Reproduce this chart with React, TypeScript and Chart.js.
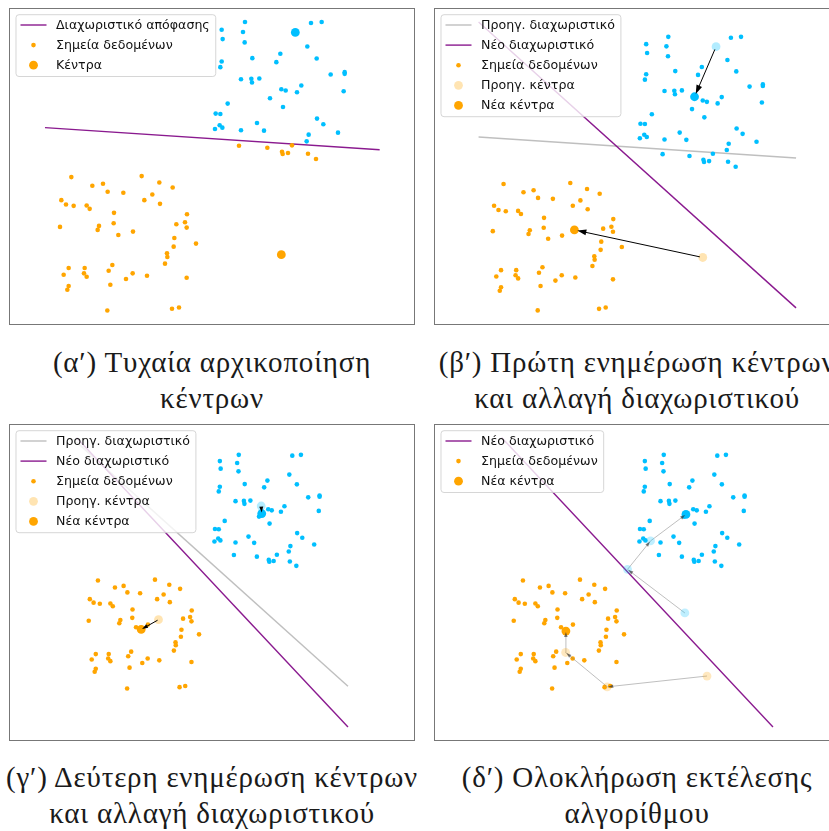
import React, { useEffect, useRef } from "react";
import { Chart, registerables } from "chart.js";

Chart.register(...registerables);

type P = [number, number];

// ---------------- data ----------------
const blueCore: P[] = [
  [1.35, 4.33], [3.65, 4.33], [3.33, 4.3], [0.65, 4.1], [1.29, 4.03], [0.68, 3.82], [1.34, 3.72],
  [3.22, 3.6], [1.57, 3.25], [3.5, 3.24], [2.29, 3.13], [2.41, 3.38], [0.65, 3.15], [0.61, 2.98],
  [3.92, 2.76], [4.34, 2.83], [4.34, 2.78], [1.23, 2.62], [1.54, 2.63], [1.56, 2.52], [1.78, 2.64],
  [3.04, 2.43], [2.44, 2.32], [2.57, 2.28], [2.91, 2.23], [4.31, 2.26], [2.1, 2.05], [2.49, 1.79],
  [0.83, 1.89], [0.47, 1.59], [0.61, 1.58], [3.51, 1.44], [3.7, 1.27], [0.59, 1.24], [0.67, 1.17],
  [0.45, 1.13], [1.71, 1.31], [1.23, 1.09], [1.92, 1.08], [4.14, 1.02], [3.26, 0.96], [3.2, 0.76],
];
// points of the upper cluster that the first (random) boundary put on the orange side
const borderPts: P[] = [
  [1.17, 0.63], [2.02, 0.57], [2.76, 0.64], [2.46, 0.45], [2.48, 0.38], [2.64, 0.41], [3.24, 0.39], [3.48, 0.23],
];
const orangePts: P[] = [
  [-3.86, -0.31], [-1.75, -0.28], [-3.23, -0.57], [-2.91, -0.51], [-1.22, -0.47], [-0.82, -0.62],
  [-2.77, -0.75], [-2.3, -0.78], [-1.43, -0.83], [-4.16, -1.0], [-4.02, -1.13], [-3.79, -1.17],
  [-3.4, -1.16], [-3.31, -1.26], [-1.67, -1.0], [-1.2, -1.11], [-2.58, -1.38], [-0.39, -1.42],
  [-2.59, -1.69], [-0.45, -1.66], [-0.71, -1.72], [-0.4, -1.82], [-4.2, -1.8], [-3.03, -1.77],
  [-3.07, -1.89], [-2.01, -1.94], [-2.45, -2.04], [-0.77, -2.13], [-0.12, -2.3], [-0.79, -2.39],
  [-0.99, -2.59], [-0.98, -2.7], [-1.05, -2.9], [-2.63, -2.94], [-3.94, -3.03], [-3.46, -3.03],
  [-3.48, -3.19], [-3.4, -3.29], [-4.09, -3.23], [-2.74, -3.11], [-2.02, -3.19], [-1.59, -3.26],
  [-2.22, -3.36], [-0.4, -3.32], [-2.69, -3.53], [-3.94, -3.57], [-3.98, -3.68], [-2.78, -4.3],
  [-0.84, -4.25], [-0.63, -4.21],
];

// centroids per iteration (0 = random init, 1 = first update, 2 = second update)
const blueCentroids: P[] = [[2.86, 4.02], [2.18, 2.44], [2.2, 2.16]];
const orangeCentroids: P[] = [[2.44, -2.63], [-1.62, -1.76], [-2.26, -2.12]];

// full run shown in the last panel
const blueTrail: P[] = [[2.13, -1.51], [0.01, 0.1], [0.86, 1.15], [2.17, 2.13]];
const orangeTrail: P[] = [[2.95, -3.84], [-0.74, -4.24], [-2.28, -2.97], [-2.27, -2.18]];

// decision boundaries (x ends shared)
const boundaryX = [-4.65, 5.39];
const boundaryY0 = [1.17, 0.51];
const boundaryY1 = [4.8, -4.22];
const boundaryY2 = [4.96, -5.72];
const boundaryYFinal = [4.97, -5.72];

const captionLines: string[][] = [
  ["(α′) Τυχαία αρχικοποίηση", "κέντρων"],
  ["(β′) Πρώτη ενημέρωση κέντρων", "και αλλαγή διαχωριστικού"],
  ["(γ′) Δεύτερη ενημέρωση κέντρων", "και αλλαγή διαχωριστικού"],
  ["(δ′) Ολοκλήρωση εκτέλεσης", "αλγορίθμου"],
];

// ---------------- styles ----------------
const BLUE = "#00BFFF";
const ORANGE = "#FFA500";
const BLUE_LIGHT = "rgba(0,191,255,0.3)";
const ORANGE_LIGHT = "rgba(255,165,0,0.3)";
const PURPLE = "#8a1a8f";
const GRAY = "rgba(128,128,128,0.5)";
const R_PT = 2.3;
const R_C = 4.4;

const pts = (a: P[]) => a.map(([x, y]) => ({ x, y }));
const seg = (ys: number[]) => boundaryX.map((x, i) => ({ x, y: ys[i] }));

function lineDs(data: { x: number; y: number }[], color: string, width = 1.4) {
  return {
    data,
    showLine: true,
    borderColor: color,
    backgroundColor: color,
    borderWidth: width,
    pointRadius: 0,
    pointHoverRadius: 0,
    fill: false,
  };
}
function dotDs(a: P[], color: string, r: number) {
  return {
    data: pts(a),
    backgroundColor: color,
    borderColor: color,
    pointRadius: r,
    pointHoverRadius: r,
    pointBorderWidth: 0,
    borderWidth: 0,
    showLine: false,
  };
}

// ---------------- plugins ----------------
function drawArrowHead(ctx: CanvasRenderingContext2D, x1: number, y1: number, x2: number, y2: number, len: number, w: number) {
  const a = Math.atan2(y2 - y1, x2 - x1);
  const c = Math.cos(a), s = Math.sin(a);
  ctx.beginPath();
  ctx.moveTo(x2, y2);
  ctx.lineTo(x2 - len * c + (w / 2) * s, y2 - len * s - (w / 2) * c);
  ctx.lineTo(x2 - len * c - (w / 2) * s, y2 - len * s + (w / 2) * c);
  ctx.closePath();
  ctx.fill();
}

const arrowPlugin = {
  id: "arrows",
  afterDatasetsDraw(chart: any, _a: any, opts: any) {
    const items = opts && opts.items;
    if (!items) return;
    const ctx: CanvasRenderingContext2D = chart.ctx;
    const xs = chart.scales.x, ys = chart.scales.y;
    ctx.save();
    for (const it of items) {
      let x1 = xs.getPixelForValue(it.from[0]);
      let y1 = ys.getPixelForValue(it.from[1]);
      let x2 = xs.getPixelForValue(it.to[0]);
      let y2 = ys.getPixelForValue(it.to[1]);
      const d = Math.hypot(x2 - x1, y2 - y1) || 1;
      const ux = (x2 - x1) / d, uy = (y2 - y1) / d;
      x1 += ux * (it.shrinkA || 0); y1 += uy * (it.shrinkA || 0);
      x2 -= ux * (it.shrinkB || 0); y2 -= uy * (it.shrinkB || 0);
      if (it.shaft) {
        ctx.strokeStyle = it.color;
        ctx.lineWidth = it.lw || 1;
        ctx.beginPath();
        ctx.moveTo(x1, y1);
        ctx.lineTo(x2 - ux * it.headLen * 0.6, y2 - uy * it.headLen * 0.6);
        ctx.stroke();
      }
      ctx.fillStyle = it.headColor || it.color;
      drawArrowHead(ctx, x1, y1, x2, y2, it.headLen, it.headW);
    }
    ctx.restore();
  },
};

const legendPlugin = {
  id: "innerLegend",
  afterDatasetsDraw(chart: any, _a: any, opts: any) {
    const items = opts && opts.items;
    if (!items) return;
    const ctx: CanvasRenderingContext2D = chart.ctx;
    const ca = chart.chartArea;
    ctx.save();
    ctx.font = '12.6px "DejaVu Sans"';
    const tw = Math.max(...items.map((i: any) => ctx.measureText(i.label).width));
    const x0 = ca.left + 7, y0 = ca.top + 6.7;
    const padL = 4.5, handle = 26, hpad = 9.5, padR = 6, rowH = 20.1;
    const w = padL + handle + hpad + tw + padR;
    const h = 10.3 + (items.length - 1) * rowH + 11.3;
    const r = 3;
    ctx.beginPath();
    ctx.moveTo(x0 + r, y0);
    ctx.lineTo(x0 + w - r, y0);
    ctx.arcTo(x0 + w, y0, x0 + w, y0 + r, r);
    ctx.lineTo(x0 + w, y0 + h - r);
    ctx.arcTo(x0 + w, y0 + h, x0 + w - r, y0 + h, r);
    ctx.lineTo(x0 + r, y0 + h);
    ctx.arcTo(x0, y0 + h, x0, y0 + h - r, r);
    ctx.lineTo(x0, y0 + r);
    ctx.arcTo(x0, y0, x0 + r, y0, r);
    ctx.closePath();
    ctx.fillStyle = "rgba(255,255,255,0.8)";
    ctx.fill();
    ctx.strokeStyle = "rgba(204,204,204,0.8)";
    ctx.lineWidth = 1;
    ctx.stroke();
    items.forEach((it: any, i: number) => {
      const cy = y0 + 10.3 + i * rowH;
      const hx = x0 + padL;
      if (it.type === "line") {
        ctx.strokeStyle = it.color;
        ctx.lineWidth = 1.4;
        ctx.beginPath();
        ctx.moveTo(hx, cy);
        ctx.lineTo(hx + handle, cy);
        ctx.stroke();
      } else {
        ctx.fillStyle = it.color;
        ctx.beginPath();
        ctx.arc(hx + handle / 2, cy, it.r, 0, Math.PI * 2);
        ctx.fill();
      }
      ctx.fillStyle = "#111";
      ctx.textBaseline = "middle";
      ctx.textAlign = "left";
      ctx.fillText(it.label, hx + handle + hpad, cy + 0.5);
    });
    ctx.restore();
  },
};

const framePlugin = {
  id: "frame",
  afterDraw(chart: any) {
    const ctx: CanvasRenderingContext2D = chart.ctx;
    const ca = chart.chartArea;
    ctx.save();
    ctx.strokeStyle = "#777";
    ctx.lineWidth = 1;
    ctx.strokeRect(ca.left + 0.5, ca.top + 0.5, ca.right - ca.left - 1, ca.bottom - ca.top - 1);
    ctx.restore();
  },
};

function makeConfig(datasets: any[], xr: number[], yr: number[], legendItems: any[], arrows: any[]) {
  const n = datasets.length;
  return {
    type: "scatter",
    data: { datasets: datasets.map((d, i) => ({ ...d, order: n - i })) },
    options: {
      animation: false,
      responsive: true,
      maintainAspectRatio: false,
      events: [],
      layout: { padding: 0, autoPadding: false },
      scales: {
        x: { type: "linear", min: xr[0], max: xr[1], display: false },
        y: { type: "linear", min: yr[0], max: yr[1], display: false },
      },
      plugins: {
        legend: { display: false },
        tooltip: { enabled: false },
        arrows: { items: arrows },
        innerLegend: { items: legendItems },
      },
    },
    plugins: [arrowPlugin, legendPlugin, framePlugin],
  } as any;
}

const allBlue = [...blueCore, ...borderPts];

const lgPts = { label: "Σημεία δεδομένων", type: "dot", color: ORANGE, r: R_PT };

const panelConfigs = [
  () =>
    makeConfig(
      [
        lineDs(seg(boundaryY0), PURPLE),
        dotDs(blueCore, BLUE, R_PT),
        dotDs([...orangePts, ...borderPts], ORANGE, R_PT),
        dotDs([blueCentroids[0]], BLUE, R_C),
        dotDs([orangeCentroids[0]], ORANGE, R_C),
      ],
      [-5.73, 6.45],
      [-4.735, 4.75],
      [
        { label: "Διαχωριστικό απόφασης", type: "line", color: PURPLE },
        lgPts,
        { label: "Κέντρα", type: "dot", color: ORANGE, r: R_C },
      ],
      []
    ),
  () =>
    makeConfig(
      [
        lineDs(seg(boundaryY0), GRAY),
        lineDs(seg(boundaryY1), PURPLE),
        dotDs(allBlue, BLUE, R_PT),
        dotDs(orangePts, ORANGE, R_PT),
        dotDs([blueCentroids[0]], BLUE_LIGHT, R_C),
        dotDs([orangeCentroids[0]], ORANGE_LIGHT, R_C),
        dotDs([blueCentroids[1]], BLUE, R_C),
        dotDs([orangeCentroids[1]], ORANGE, R_C),
      ],
      [-6.06, 6.78],
      [-4.76, 5.24],
      [
        { label: "Προηγ. διαχωριστικό", type: "line", color: GRAY },
        { label: "Νέο διαχωριστικό", type: "line", color: PURPLE },
        lgPts,
        { label: "Προηγ. κέντρα", type: "dot", color: ORANGE_LIGHT, r: R_C },
        { label: "Νέα κέντρα", type: "dot", color: ORANGE, r: R_C },
      ],
      [
        { from: blueCentroids[0], to: blueCentroids[1], color: "#000", lw: 1, headLen: 9, headW: 6, shrinkA: 3, shrinkB: 3, shaft: true },
        { from: orangeCentroids[0], to: orangeCentroids[1], color: "#000", lw: 1, headLen: 9, headW: 6, shrinkA: 3, shrinkB: 3, shaft: true },
      ]
    ),
  () =>
    makeConfig(
      [
        lineDs(seg(boundaryY1), GRAY),
        lineDs(seg(boundaryY2), PURPLE),
        dotDs(allBlue, BLUE, R_PT),
        dotDs(orangePts, ORANGE, R_PT),
        dotDs([blueCentroids[1]], BLUE_LIGHT, R_C),
        dotDs([orangeCentroids[1]], ORANGE_LIGHT, R_C),
        dotDs([blueCentroids[2]], BLUE, R_C),
        dotDs([orangeCentroids[2]], ORANGE, R_C),
      ],
      [-7.15, 7.87],
      [-6.24, 5.47],
      [
        { label: "Προηγ. διαχωριστικό", type: "line", color: GRAY },
        { label: "Νέο διαχωριστικό", type: "line", color: PURPLE },
        lgPts,
        { label: "Προηγ. κέντρα", type: "dot", color: ORANGE_LIGHT, r: R_C },
        { label: "Νέα κέντρα", type: "dot", color: ORANGE, r: R_C },
      ],
      [
        { from: blueCentroids[1], to: blueCentroids[2], color: "#000", lw: 1, headLen: 6, headW: 4, shrinkA: 1, shrinkB: 1, shaft: true },
        { from: orangeCentroids[1], to: orangeCentroids[2], color: "#000", lw: 1, headLen: 6, headW: 4, shrinkA: 1, shrinkB: 1, shaft: true },
      ]
    ),
  () => {
    const trailArrows: any[] = [];
    [blueTrail, orangeTrail].forEach((t) => {
      for (let i = 0; i < t.length - 1; i++) {
        trailArrows.push({ from: t[i], to: t[i + 1], color: "rgba(40,40,40,0.6)", headLen: 5, headW: 3.5, shrinkA: 0, shrinkB: 1, shaft: false });
      }
    });
    return makeConfig(
      [
        lineDs(seg(boundaryYFinal), PURPLE),
        dotDs(allBlue, BLUE, R_PT),
        dotDs(orangePts, ORANGE, R_PT),
        lineDs(pts(blueTrail), GRAY, 1),
        lineDs(pts(orangeTrail), GRAY, 1),
        dotDs(blueTrail.slice(0, 3), "rgba(0,191,255,0.25)", R_C),
        dotDs(orangeTrail.slice(0, 3), "rgba(255,165,0,0.25)", R_C),
        dotDs([blueTrail[3]], BLUE, R_C),
        dotDs([orangeTrail[3]], ORANGE, R_C),
      ],
      [-7.15, 7.87],
      [-6.24, 5.47],
      [
        { label: "Νέο διαχωριστικό", type: "line", color: PURPLE },
        lgPts,
        { label: "Νέα κέντρα", type: "dot", color: ORANGE, r: R_C },
      ],
      trailArrows
    );
  },
];

const PANEL_W = 406;
const PANEL_H = 317;
const panelPos = [
  { left: 9, top: 8 },
  { left: 434, top: 8 },
  { left: 9, top: 424 },
  { left: 434, top: 424 },
];
const captionTop = [344, 344, 759, 759];

function Panel({ idx }: { idx: number }) {
  const ref = useRef<HTMLCanvasElement>(null);
  useEffect(() => {
    const chart = new Chart(ref.current as HTMLCanvasElement, panelConfigs[idx]());
    return () => chart.destroy();
  }, [idx]);
  const p = panelPos[idx];
  return (
    <>
      <div style={{ position: "absolute", left: p.left, top: p.top, width: PANEL_W, height: PANEL_H }}>
        <canvas ref={ref} />
      </div>
      <div
        style={{
          position: "absolute",
          left: p.left + PANEL_W / 2 - 300,
          top: captionTop[idx],
          width: 600,
          textAlign: "center",
          fontFamily: '"Liberation Serif", serif',
          fontSize: 29,
          letterSpacing: "0.8px",
          lineHeight: "36px",
          color: "#1a1a1a",
          whiteSpace: "nowrap",
        }}
      >
        {captionLines[idx].map((l, i) => (
          <div key={i}>{l}</div>
        ))}
      </div>
    </>
  );
}

export default function App() {
  return (
    <div
      style={{
        position: "fixed",
        left: 0,
        top: 0,
        width: 829,
        height: 831,
        overflow: "hidden",
        background: "#fff",
      }}
    >
      {[0, 1, 2, 3].map((i) => (
        <Panel key={i} idx={i} />
      ))}
    </div>
  );
}
